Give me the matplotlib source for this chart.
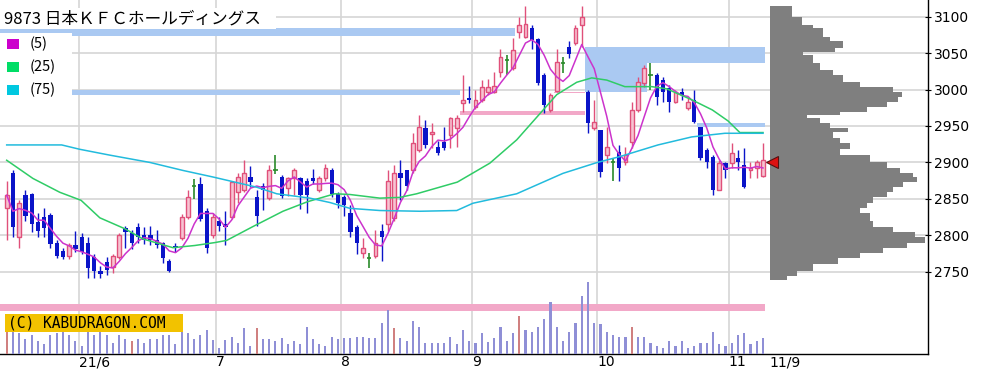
import matplotlib

matplotlib.use("Agg")
import matplotlib.pyplot as plt
import numpy as np
import pandas as pd
from matplotlib.patches import Rectangle

plt.rcParams["font.family"] = ["DejaVu Sans"]

title = "9873 日本ＫＦＣホールディングス"

# daily candles 2021-05-14 .. 2021-11-09
opens = [2837, 2886, 2797, 2855, 2857, 2818, 2825, 2828, 2790, 2779,
         2771, 2786, 2798, 2790, 2770, 2751, 2763, 2756, 2770, 2810,
         2803, 2811, 2800, 2800, 2794, 2789, 2765, 2785, 2796, 2825,
         2868, 2871, 2834, 2800, 2820, 2816, 2825, 2859, 2862, 2880,
         2852, 2868, 2851, 2890, 2880, 2865, 2878, 2878, 2875, 2879,
         2862, 2878, 2889, 2857, 2852, 2830, 2811, 2776, 2769, 2772,
         2806, 2816, 2824, 2886, 2889, 2889, 2917, 2947, 2939, 2921,
         2928, 2937, 2947, 2981, 2989, 2976, 2986, 2997, 2997, 3024,
         3041, 3030, 3079, 3072, 3085, 3070, 3020, 2972, 2998, 3037,
         3059, 3064, 3088, 2997, 2947, 2944, 2910, 2900, 2914, 2900,
         2928, 2972, 3009, 3020, 3020, 3013, 3002, 2983, 2997, 2975,
         2986, 2948, 2917, 2907, 2862, 2899, 2899, 2906, 2896, 2889,
         2892, 2882]
highs = [2874, 2889, 2848, 2862, 2858, 2831, 2838, 2830, 2793, 2782,
         2790, 2806, 2803, 2797, 2775, 2758, 2770, 2775, 2803, 2813,
         2807, 2817, 2811, 2813, 2807, 2791, 2768, 2789, 2829, 2862,
         2877, 2880, 2837, 2830, 2825, 2834, 2875, 2886, 2904, 2895,
         2862, 2872, 2896, 2910, 2883, 2880, 2893, 2880, 2878, 2891,
         2882, 2898, 2893, 2859, 2855, 2841, 2814, 2796, 2776, 2807,
         2815, 2889, 2897, 2903, 2890, 2940, 2965, 2958, 2954, 2930,
         2948, 2962, 2965, 3020, 3005, 3000, 3013, 3015, 3024, 3055,
         3048, 3071, 3100, 3115, 3089, 3071, 3023, 2995, 3055, 3045,
         3066, 3089, 3115, 3000, 2986, 2944, 2948, 2905, 2924, 2921,
         2983, 3017, 3034, 3037, 3023, 3017, 3006, 3000, 3002, 2989,
         3000, 2948, 2920, 2910, 2903, 2900, 2927, 2917, 2920, 2900,
         2903, 2927]
lows = [2794, 2797, 2783, 2820, 2805, 2797, 2797, 2783, 2769, 2767,
        2768, 2777, 2774, 2741, 2742, 2741, 2746, 2748, 2768, 2782,
        2781, 2790, 2788, 2786, 2783, 2762, 2749, 2777, 2793, 2822,
        2850, 2820, 2776, 2796, 2806, 2787, 2822, 2845, 2859, 2866,
        2813, 2835, 2848, 2884, 2851, 2854, 2855, 2836, 2831, 2870,
        2859, 2875, 2852, 2838, 2827, 2798, 2775, 2769, 2755, 2769,
        2765, 2806, 2820, 2848, 2862, 2886, 2914, 2920, 2920, 2910,
        2917, 2920, 2921, 2969, 2981, 2974, 2983, 2993, 2995, 3017,
        3020, 3027, 3071, 3071, 3055, 3006, 2968, 2969, 2997, 3023,
        3043, 3061, 3059, 2940, 2944, 2880, 2899, 2875, 2875, 2896,
        2920, 2969, 3003, 3000, 2979, 2983, 2969, 2981, 2986, 2972,
        2954, 2903, 2893, 2855, 2862, 2878, 2893, 2889, 2865, 2878,
        2878, 2880]
closes = [2855, 2811, 2844, 2827, 2816, 2806, 2810, 2788, 2772, 2770,
          2787, 2781, 2777, 2755, 2751, 2747, 2752, 2771, 2800, 2804,
          2789, 2797, 2794, 2793, 2786, 2769, 2751, 2782, 2825, 2852,
          2868, 2823, 2782, 2825, 2813, 2812, 2873, 2880, 2885, 2873,
          2827, 2862, 2889, 2890, 2854, 2878, 2889, 2855, 2855, 2875,
          2878, 2893, 2857, 2844, 2841, 2804, 2789, 2783, 2769, 2789,
          2797, 2875, 2886, 2879, 2868, 2926, 2948, 2924, 2942, 2913,
          2920, 2961, 2961, 2986, 2985, 2986, 3004, 3004, 3005, 3045,
          3041, 3054, 3089, 3090, 3068, 3009, 2979, 2993, 3038, 3037,
          3049, 3085, 3100, 2954, 2955, 2887, 2921, 2900, 2892, 2910,
          2972, 3010, 3030, 3020, 2990, 2997, 2983, 2997, 2993, 2983,
          2955, 2906, 2900, 2862, 2899, 2889, 2913, 2900, 2866, 2893,
          2900, 2903]
volume = [22, 22, 21, 15, 19, 13, 10, 19, 21, 22,
          19, 13, 8, 22, 19, 22, 19, 11, 19, 15,
          13, 15, 11, 15, 15, 19, 19, 10, 22, 21,
          15, 19, 24, 14, 6, 14, 17, 11, 26, 8,
          26, 15, 15, 13, 16, 10, 13, 10, 27, 15,
          10, 8, 17, 15, 16, 16, 17, 17, 16, 16,
          31, 44, 26, 16, 13, 33, 27, 11, 11, 11,
          11, 17, 10, 24, 13, 11, 21, 12, 16, 27,
          13, 21, 38, 24, 22, 27, 35, 52, 27, 13,
          22, 31, 58, 72, 31, 30, 22, 19, 17, 17,
          27, 17, 17, 11, 8, 6, 13, 8, 13, 6,
          8, 11, 11, 22, 10, 8, 11, 19, 21, 10,
          13, 16]
vol_red_days = [0, 20, 40, 62, 82, 100]

month_first = [12, 34, 54, 75, 95, 116]
month_labels = ["21/6", "7", "8", "9", "10", "11"]
last_label = "11/9"

ma25_day = [0, 4.2, 8.5, 11.9, 14.9, 18.9, 21.8, 26.6, 30.1, 33.3, 35.2, 39.4,
            44.2, 48.1, 52.5, 54.9, 59.7, 62.9, 65.6, 72.1, 77.3, 81.6, 84.8,
            88, 91.2, 93.6, 96, 98.9, 103.2, 105.6, 109.6, 112.9, 115.4, 117.3,
            121]
ma25_val = [2903, 2878, 2859, 2848, 2824, 2809, 2795, 2783, 2786, 2790, 2793,
            2812, 2833, 2846, 2857, 2856, 2851, 2852, 2857, 2873, 2899, 2931,
            2962, 2993, 3010, 3016, 3013, 3004, 3004, 3001, 2986, 2972, 2957,
            2941, 2941]
ma75_day = [0, 8.8, 11.7, 16.5, 22.9, 28.2, 33, 40, 43.2, 48.5, 51.7, 54.9,
            59.7, 66.1, 72, 74.6, 81.6, 89, 94.5, 98.1, 104.2, 109.6, 114.9, 121]
ma75_val = [2924, 2924, 2918, 2910, 2900, 2889, 2880, 2866, 2857, 2851, 2845,
            2837, 2834, 2833, 2834, 2844, 2857, 2885, 2900, 2908, 2924, 2935,
            2940, 2940]

# open price gaps (窓) still shown as bands
gap_from = [-2, -2, 72.5, 87.5, 92.5, 102.5, 110.5, -2]
gap_to = [81.4, 72.5, 92.5, 92.5, 102.5, 121.4, 121.4, 121.4]
gap_lo = [3073, 2993, 2965, 2995, 2997, 3037, 2948, 2696]
gap_hi = [3085, 2999, 2970, 2997, 3059, 3059, 2954, 2706]
gap_up = [False, False, True, True, False, False, False, True]

# price-by-volume profile
prof_edges = [3115, 3100, 3089, 3085, 3072, 3066, 3057, 3052, 3048, 3037,
              3027, 3020, 3010, 3004, 2997, 2990, 2983, 2976, 2969, 2965,
              2961, 2954, 2947, 2942, 2933, 2926, 2919, 2910, 2900, 2893,
              2886, 2880, 2873, 2866, 2859, 2852, 2845, 2838, 2830, 2820,
              2811, 2804, 2797, 2790, 2783, 2776, 2769, 2761, 2751, 2744, 2738]
prof_vol = [22, 32, 43, 53, 60, 73, 65, 33, 43, 50,
            63, 73, 90, 123, 132, 128, 117, 97, 70, 37,
            50, 60, 78, 63, 70, 80, 70, 100, 117, 130,
            143, 147, 133, 123, 117, 103, 97, 90, 100, 103,
            123, 145, 155, 137, 113, 90, 68, 43, 27, 17]

UP_EDGE = "#e0507a"
UP_FILL = "#f7c3d2"
DOWN = "#0a14c8"
DOJI = "#2a8a2a"

W, H = 996, 370


def fx(px):
    return px / W


def fy(py):
    return 1 - py / H


fig = plt.figure(figsize=(W / 100, H / 100), dpi=100, facecolor="white")
ax = fig.add_axes([0, fy(354), fx(928), fy(0) - fy(354)])
ax.set_xlim(-1.07, 147.4)
ax.set_ylim(2637.1, 3122.9)

# grid
for p in range(2750, 3101, 50):
    ax.axhline(p, color="#d5d5d5", lw=1.2, zorder=0)
for m in month_first:
    ax.axvline(m - 0.5, color="#d5d5d5", lw=1.2, zorder=0)

# gap bands
for x0, x1, lo, hi, up in zip(gap_from, gap_to, gap_lo, gap_hi, gap_up):
    ax.add_patch(Rectangle((x0, lo), x1 - x0, hi - lo, lw=0,
                           facecolor="#f2a8c8" if up else "#aac9f2", zorder=1))

o = np.array(opens, float)
h = np.array(highs, float)
lo_ = np.array(lows, float)
c = np.array(closes, float)
idx = np.arange(len(c))
up = c > o
dn = c < o
dj = c == o

ax.vlines(idx[up], lo_[up], h[up], color=UP_EDGE, lw=1, zorder=3)
ax.bar(idx[up], c[up] - o[up], bottom=o[up], width=0.6,
       facecolor=UP_FILL, edgecolor=UP_EDGE, lw=1, zorder=4)
ax.vlines(idx[dn], lo_[dn], h[dn], color=DOWN, lw=1, zorder=3)
ax.bar(idx[dn], o[dn] - c[dn], bottom=c[dn], width=0.66,
       color=DOWN, lw=0, zorder=4)
ax.vlines(idx[dj], lo_[dj], h[dj], color=DOJI, lw=1.2, zorder=3)
ax.hlines(o[dj], idx[dj] - 0.33, idx[dj] + 0.33, color=DOJI, lw=1.2, zorder=4)

ma5 = pd.Series(c).rolling(5, min_periods=1).mean()
ax.plot(idx, ma5, color="#cc33cc", lw=1.1, zorder=5)
ax.plot(ma25_day, ma25_val, color="#2fcc66", lw=1.1, zorder=5)
ax.plot(ma75_day, ma75_val, color="#22bbdd", lw=1.1, zorder=5)

# volume (twinx moves the price ticks, so set them afterwards)
axv = ax.twinx()
axv.set_ylim(0, 354)
axv.axis("off")
vcol = ["#d08080" if i in vol_red_days else "#8f8fd6" for i in idx]
axv.bar(idx, volume, width=0.33, color=vcol, lw=0, zorder=2)

# axes cosmetics
for side in ("left", "top"):
    ax.spines[side].set_visible(False)
for side in ("right", "bottom"):
    ax.spines[side].set_visible(True)
    ax.spines[side].set_color("black")
    ax.spines[side].set_linewidth(1.0)
ax.yaxis.tick_right()
ax.yaxis.set_label_position("right")
ax.set_yticks(range(2750, 3101, 50))
ax.tick_params(axis="y", which="both", left=False, labelleft=False,
               right=True, labelright=True,
               direction="inout", length=5, pad=2, labelsize=10)
xt = [m - 0.5 for m in month_first] + [len(c) + 0.1]
ax.set_xticks(xt, month_labels + [last_label])
ax.tick_params(axis="x", length=0, pad=1, labelsize=10)
for t in ax.get_xticklabels():
    t.set_horizontalalignment("left")

# price-by-volume profile
axp = fig.add_axes([fx(770), fy(354), fx(928) - fx(770), fy(0) - fy(354)])
axp.set_xlim(0, 158)
axp.set_ylim(ax.get_ylim())
axp.axis("off")
heights = np.diff(prof_edges)
axp.barh(np.array(prof_edges[:-1]) + heights / 2, prof_vol, height=heights,
         left=0, color="#7f7f7f", lw=0, align="center")
axp.plot([1.5], [c[-1] - 2], marker="<", ms=8, color="#dd1111",
         markeredgecolor="#551111", mew=0.8, clip_on=False, zorder=6)

# title / legend / watermark
fig.patches.append(Rectangle((0, fy(29)), fx(276), fy(8) - fy(29),
                             transform=fig.transFigure, facecolor="white",
                             lw=0, zorder=10))
fig.text(fx(4), fy(19), title, fontsize=12, va="center", ha="left",
         family=["Noto Sans CJK JP", "DejaVu Sans"], zorder=11)
fig.patches.append(Rectangle((0, fy(97)), fx(72), fy(33) - fy(97),
                             transform=fig.transFigure, facecolor="white",
                             lw=0, zorder=10))
leg_rows = [("(5)", "#cc00cc", 44), ("(25)", "#00dd66", 67), ("(75)", "#00c8e0", 90)]
for lab, col, yy in leg_rows:
    fig.patches.append(Rectangle((fx(7), fy(yy + 5)), fx(12), fy(yy - 5) - fy(yy + 5),
                                 transform=fig.transFigure, facecolor=col,
                                 lw=0, zorder=11))
    fig.text(fx(30), fy(yy), lab, fontsize=10.5, va="center", ha="left",
             family=["Noto Sans CJK JP", "DejaVu Sans"], zorder=11)

fig.patches.append(Rectangle((fx(5), fy(332)), fx(178), fy(314) - fy(332),
                             transform=fig.transFigure, facecolor="#f2c200",
                             lw=0, zorder=10))
fig.text(fx(8), fy(323.5), "(C) KABUDRAGON.COM", fontsize=10.5, va="center",
         ha="left", family="DejaVu Sans Mono", zorder=11)

fig.savefig("out.png", dpi=100, facecolor="white")
